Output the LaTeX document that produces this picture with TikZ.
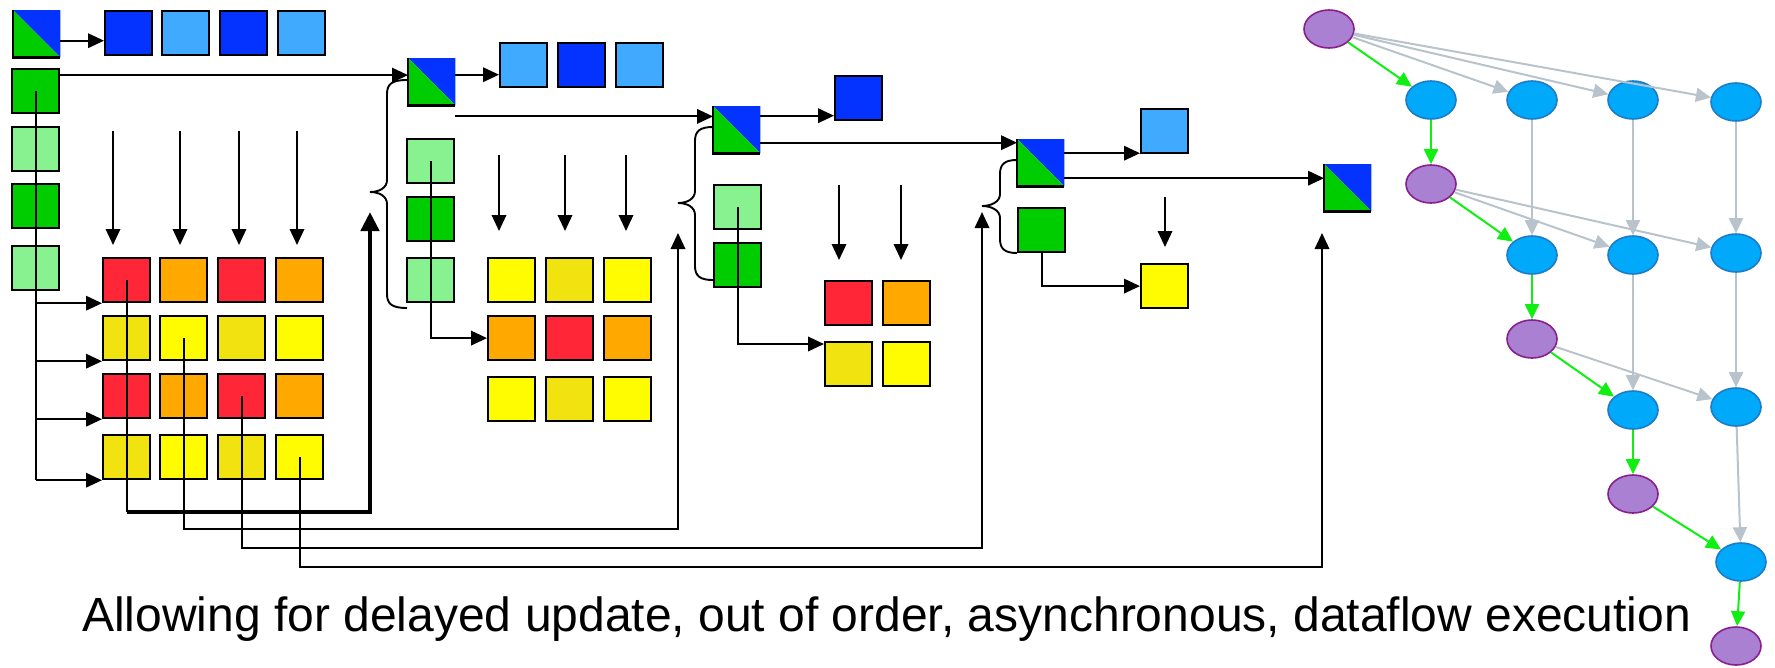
\documentclass[tikz,border=0pt]{standalone}
\usepackage{fontspec}
\setmainfont{Liberation Sans}
\usetikzlibrary{arrows.meta,shapes.geometric,calc}

% block colours
\definecolor{dblue}{HTML}{0433FF}
\definecolor{lblue}{HTML}{3FAAFF}
\definecolor{dgreen}{HTML}{00CD00}
\definecolor{lgreen}{HTML}{88F291}
\definecolor{cred}{HTML}{FF2638}
\definecolor{corange}{HTML}{FFA800}
\definecolor{cyellow}{HTML}{FFFB00}
\definecolor{dyellow}{HTML}{F0E30F}
% task-graph colours
\definecolor{pfill}{HTML}{A980D2}
\definecolor{pborder}{HTML}{8B1E8E}
\definecolor{bfill}{HTML}{00A9FA}
\definecolor{bborder}{HTML}{1E7BC8}
\definecolor{edgegray}{HTML}{B9C3CB}
\definecolor{flowgreen}{HTML}{11EE11}

\tikzset{
  box/.style={draw, line width=2.2pt, fill=#1, minimum width=47pt,
    minimum height=44pt, inner sep=0pt, anchor=north west},
  trinode/.style={minimum width=47pt, minimum height=47pt, inner sep=0pt,
    anchor=north west},
  ln/.style={line width=1.9pt},
  arr/.style={ln, -{Triangle[length=16pt,width=14.5pt]}},
  bigarr/.style={line width=4.5pt, -{Triangle[length=19pt,width=18pt]}},
  pnode/.style={ellipse, draw=pborder, fill=pfill, line width=1.6pt,
    minimum width=50pt, minimum height=38pt, inner sep=0pt},
  bnode/.style={ellipse, draw=bborder, fill=bfill, line width=1.6pt,
    minimum width=50pt, minimum height=38pt, inner sep=0pt},
  gedge/.style={draw=edgegray, line width=2pt, -{Triangle[length=15pt,width=14pt]}},
  fedge/.style={draw=flowgreen, line width=2pt, -{Triangle[length=15pt,width=14pt]}},
}

% square split along its diagonal: blue above, green below
\newcommand{\splitbox}[2]{%
  \node[trinode] (#1) at (#2) {};
  \fill[dblue] (#1.north west) -- (#1.north east) -- (#1.south east) -- cycle;
  \fill[dgreen] (#1.north west) -- (#1.south west) -- (#1.south east) -- cycle;
  \draw[line width=2.2pt] (#1.north west) -- (#1.south west) -- (#1.south east);}

% curly brace: end x, top y, spine x, tip x, tip y, bottom y
\newcommand{\curly}[6]{%
  \draw[ln] (#1,#2) .. controls ({#3+5},#2) and (#3,{#2+4}) .. (#3,{#2+14})
    -- (#3,{#5-12}) .. controls (#3,{#5-4}) and ({#4+9},#5) .. (#4,#5)
    .. controls ({#4+9},#5) and (#3,{#5+4}) .. (#3,{#5+12})
    -- (#3,{#6-14}) .. controls (#3,{#6-4}) and ({#3+5},#6) .. (#1,#6);}

\begin{document}
\begin{tikzpicture}[x=1pt,y=-1pt]
\useasboundingbox (0,0) rectangle (1775,667);

% ---------- stage 1 ----------
\splitbox{t1}{13,10}
\node[box=dblue] (b11) at (104,10) {};
\node[box=lblue] (b12) at (161,10) {};
\node[box=dblue] (b13) at (219,10) {};
\node[box=lblue] (b14) at (277,10) {};

\node[box=dgreen] (g11) at (11,68) {};
\node[box=lgreen] (g12) at (11,126) {};
\node[box=dgreen] (g13) at (11,183) {};
\node[box=lgreen] (g14) at (11,245) {};

\node[box=cred]    (a11) at (102,257) {};
\node[box=corange] (a12) at (159,257) {};
\node[box=cred]    (a13) at (217,257) {};
\node[box=corange] (a14) at (275,257) {};
\node[box=dyellow] (a21) at (102,315) {};
\node[box=cyellow] (a22) at (159,315) {};
\node[box=dyellow] (a23) at (217,315) {};
\node[box=cyellow] (a24) at (275,315) {};
\node[box=cred]    (a31) at (102,373) {};
\node[box=corange] (a32) at (159,373) {};
\node[box=cred]    (a33) at (217,373) {};
\node[box=corange] (a34) at (275,373) {};
\node[box=dyellow] (a41) at (102,434) {};
\node[box=cyellow] (a42) at (159,434) {};
\node[box=dyellow] (a43) at (217,434) {};
\node[box=cyellow] (a44) at (275,434) {};

% ---------- stage 2 ----------
\splitbox{t2}{408,58}
\node[box=lblue] (b21) at (499,42) {};
\node[box=dblue] (b22) at (557,42) {};
\node[box=lblue] (b23) at (615,42) {};

\node[box=lgreen] (g21) at (406,138) {};
\node[box=dgreen] (g22) at (406,196) {};
\node[box=lgreen] (g23) at (406,257) {};

\node[box=cyellow] (q11) at (487,257) {};
\node[box=dyellow] (q12) at (545,257) {};
\node[box=cyellow] (q13) at (603,257) {};
\node[box=corange] (q21) at (487,315) {};
\node[box=cred]    (q22) at (545,315) {};
\node[box=corange] (q23) at (603,315) {};
\node[box=cyellow] (q31) at (487,376) {};
\node[box=dyellow] (q32) at (545,376) {};
\node[box=cyellow] (q33) at (603,376) {};

% ---------- stage 3 ----------
\splitbox{t3}{713,106}
\node[box=dblue] (b31) at (834,75) {};
\node[box=lgreen] (g31) at (713,184) {};
\node[box=dgreen] (g32) at (713,242) {};

\node[box=cred]    (s11) at (824,280) {};
\node[box=corange] (s12) at (882,280) {};
\node[box=dyellow] (s21) at (824,341) {};
\node[box=cyellow] (s22) at (882,341) {};

% ---------- stage 4 ----------
\splitbox{t4}{1017,139}
\node[box=lblue] (b41) at (1140,108) {};
\node[box=dgreen] (g41) at (1017,207) {};
\node[box=cyellow] (y41) at (1140,263) {};

% ---------- stage 5 ----------
\splitbox{t5}{1324,164}

% ---------- braces ----------
\curly{407}{80}{387}{370}{192}{308}
\curly{713}{127}{695}{678}{203}{280}
\curly{1017}{160}{1000}{982}{206}{253}

% ---------- arrows along the top ----------
\draw[arr] ([yshift=-7pt]t1.east) -- ([yshift=-7pt]t1.east -| b11.west);
\draw[arr] ([yshift=16pt]g11.east) -- ([yshift=16pt]g11.east -| t2.west);
\draw[arr] ([yshift=7pt]t2.east) -- ([yshift=7pt]t2.east -| b21.west);
\draw[arr] ([yshift=-11pt]t2.south east) -- ([yshift=-11pt]t2.south east -| t3.west);
\draw[arr] ([yshift=14pt]t3.east) -- ([yshift=14pt]t3.east -| b31.west);
\draw[arr] ([yshift=-13pt]t3.east) -- ([yshift=-13pt]t3.east -| t4.west);
\draw[arr] ([yshift=9.5pt]t4.east) -- ([yshift=9.5pt]t4.east -| b41.west);
\draw[arr] ([yshift=-15.5pt]t4.east) -- ([yshift=-15.5pt]t4.east -| t5.west);

% ---------- falling updates ----------
\foreach \x in {113,180,239,297} \draw[arr] (\x,131) -- (\x,245);
\foreach \x in {499,565,626} \draw[arr] (\x,155) -- (\x,231);
\foreach \x in {839,901} \draw[arr] (\x,185) -- (\x,260);
\draw[arr] (1165,197) -- (1165,247);

% ---------- panel fan-out ----------
\draw[ln] (g11.center) -- (g11.center |- a41.south west);
\foreach \r in {1,2,3,4}
  \draw[arr] (g11.center |- a\r1.south west) -- (a\r1.south west);
\draw[arr] (g21.center) |- (q21.west);
\draw[arr] (g31.center) |- ([yshift=-3pt]s21.north west);
\draw[arr] (g41.south) |- (y41.west);

% ---------- delayed returns ----------
\coordinate (u1) at (370,212);
\coordinate (u2) at (678,233);
\coordinate (u3) at (982,212);
\coordinate (u4) at (1322,233);
\coordinate (lv1) at (0,512);
\coordinate (lv2) at (0,529);
\coordinate (lv3) at (0,548);
\coordinate (lv4) at (0,567);
\draw[ln] (a11.center) -- (a11.center |- lv1);
\draw[bigarr] (a11.center |- lv1) -| (u1);
\draw[arr] (a22.center) -- (a22.center |- lv2) -| (u2);
\draw[arr] (a33.center) -- (a33.center |- lv3) -| (u3);
\draw[arr] (a44.center) -- (a44.center |- lv4) -| (u4);

% ---------- task graph ----------
\node[pnode] (p1) at (1329,29) {};
\node[bnode] (n11) at (1431,100) {};
\node[bnode] (n12) at (1532,100) {};
\node[bnode] (n13) at (1633,100) {};
\node[bnode] (n14) at (1736,102) {};
\node[pnode] (p2) at (1431,184) {};
\node[bnode] (n22) at (1532,255) {};
\node[bnode] (n23) at (1633,255) {};
\node[bnode] (n24) at (1736,253) {};
\node[pnode] (p3) at (1532,339) {};
\node[bnode] (n33) at (1633,410) {};
\node[bnode] (n34) at (1736,407) {};
\node[pnode] (p4) at (1633,494) {};
\node[bnode] (n44) at (1741,562) {};
\node[pnode] (p5) at (1736,646) {};

\draw[gedge] (p1) -- (n12);
\draw[gedge] (p1) -- (n13);
\draw[gedge] (p1) -- (n14);
\draw[gedge] (n12) -- (n22);
\draw[gedge] (n13) -- (n23);
\draw[gedge] (n14) -- (n24);
\draw[gedge] (p2) -- (n23);
\draw[gedge] (p2) -- (n24);
\draw[gedge] (n23) -- (n33);
\draw[gedge] (n24) -- (n34);
\draw[gedge] (p3) -- (n34);
\draw[gedge] (n34) -- (n44);

\draw[fedge] (p1) -- (n11);
\draw[fedge] (n11) -- (p2);
\draw[fedge] (p2) -- (n22);
\draw[fedge] (n22) -- (p3);
\draw[fedge] (p3) -- (n33);
\draw[fedge] (n33) -- (p4);
\draw[fedge] (p4) -- (n44);
\draw[fedge] (n44) -- (p5);

% ---------- caption ----------
\node[anchor=base west, inner sep=0pt, font=\fontsize{48pt}{57pt}\selectfont]
  (caption) at (82,631)
  {Allowing for delayed update, out of order, asynchronous, dataflow execution};
\end{tikzpicture}
\end{document}
